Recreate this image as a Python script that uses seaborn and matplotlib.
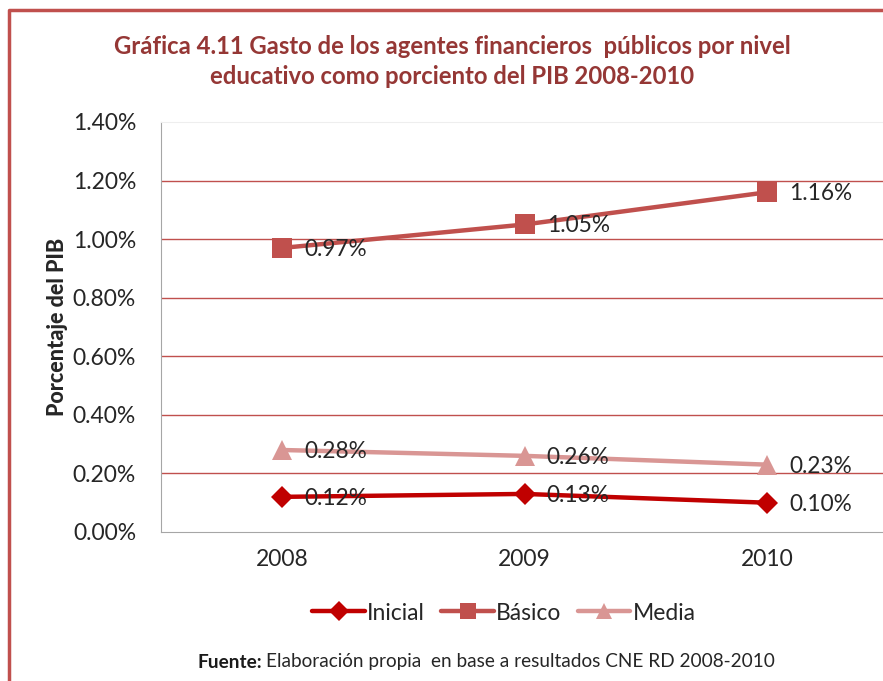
import pandas as pd
import seaborn as sns
import matplotlib.pyplot as plt
from matplotlib.lines import Line2D

# datos (porcentaje del PIB)
years = ['2008', '2009', '2010']
niveles = ['Inicial', 'Básico', 'Media']
inicial = [0.12, 0.13, 0.10]
basico = [0.97, 1.05, 1.16]
media = [0.28, 0.26, 0.23]
y_ticks = [0.0, 0.2, 0.4, 0.6, 0.8, 1.0, 1.2, 1.4]

colores = {'Inicial': '#C00000', 'Básico': '#C0504D', 'Media': '#D99694'}
marcadores = {'Inicial': 'D', 'Básico': 's', 'Media': '^'}
tamanos = {'Inicial': 11.5, 'Básico': 14, 'Media': 14}

df = pd.DataFrame({
    'pos': list(range(len(years))) * 3,
    'valor': inicial + basico + media,
    'nivel': [n for n in niveles for _ in years],
})

sns.set_style('white')
plt.rcParams['font.family'] = ['Lato', 'DejaVu Sans']

fig = plt.figure(figsize=(8.83, 6.81), dpi=100)
ax = fig.add_axes([161 / 883, 149 / 681, 727 / 883, 410 / 681])

for y in y_ticks[1:-1]:
    ax.axhline(y, color='#C0504D', lw=1, zorder=0)

for n in niveles:
    sub = df[df['nivel'] == n]
    sns.lineplot(data=sub, x='pos', y='valor', ax=ax, color=colores[n],
                 lw=3.2, marker=marcadores[n], markersize=tamanos[n],
                 markeredgewidth=0, label=n, legend=False, zorder=3)
    for x, v in zip(sub['pos'], sub['valor']):
        ax.annotate('%.2f%%' % v, (x, v), xytext=(16, -1), textcoords='offset points',
                    ha='left', va='center', fontsize=16.3, color='#262626', zorder=4)

ax.set_xlim(-0.5, 2.5)
ax.set_ylim(0, 1.4)
ax.set_xticks(range(len(years)))
ax.set_xticklabels(years)
ax.set_yticks(y_ticks)
ax.set_yticklabels(['%.2f%%' % t for t in y_ticks])
ax.tick_params(axis='both', length=0, labelsize=16.5, labelcolor='#262626')
ax.tick_params(axis='x', pad=12)
ax.tick_params(axis='y', pad=18)
ax.set_xlabel('')
ax.set_ylabel('Porcentaje del PIB', fontsize=15.5, fontweight='black', labelpad=3)
for s in ['left', 'bottom']:
    ax.spines[s].set_color('#A6A6A6')
ax.spines['top'].set_color('#EEEEEE')
ax.spines['right'].set_visible(False)

fig.text(452 / 883, 1 - 47 / 681, 'Gráfica 4.11 Gasto de los agentes financieros  públicos por nivel',
         ha='center', va='center', fontsize=17.2, fontweight='bold', color='#953735')
fig.text(452 / 883, 1 - 76 / 681, 'educativo como porciento del PIB 2008-2010',
         ha='center', va='center', fontsize=17.2, fontweight='bold', color='#953735')

handles = [Line2D([], [], color=colores[n], lw=3.2, marker=marcadores[n],
                  markersize=tamanos[n] * 0.85, markeredgewidth=0) for n in niveles]
fig.legend(handles, niveles, loc='center', bbox_to_anchor=(504 / 883, 1 - 613 / 681),
           ncol=3, frameon=False, fontsize=16.5, handlelength=2.3, handletextpad=0.1,
           columnspacing=0.7, labelcolor='#262626')

fig.text(262 / 883, 1 - 662 / 681, 'Fuente:', ha='right', va='center',
         fontsize=13.7, fontweight='bold', color='#1a1a1a')
fig.text(266 / 883, 1 - 662 / 681, 'Elaboración propia  en base a resultados CNE RD 2008-2010',
         ha='left', va='center', fontsize=13.7, color='#262626')

# borde del gráfico
fig.add_artist(Line2D([8.5 / 883, 8.5 / 883, 1], [0, 1 - 10 / 681, 1 - 10 / 681],
                      transform=fig.transFigure, color='#C0504D', lw=2.5))

fig.savefig('out.png', dpi=100)
